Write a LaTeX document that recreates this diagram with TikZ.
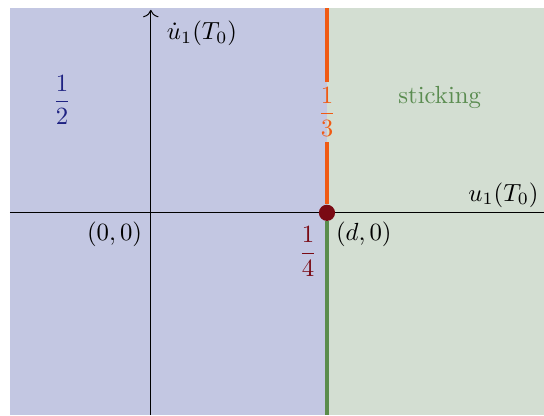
\documentclass[tikz,border=0pt]{standalone}
\usepackage{tikz}
\usetikzlibrary{positioning,arrows.meta}

\definecolor{slipblue}{HTML}{C3C7E2}
\definecolor{stickgreen}{HTML}{D3DED2}
\definecolor{edgeorange}{HTML}{F05A14}
\definecolor{edgegreen}{HTML}{5A8C4B}
\definecolor{pointred}{HTML}{7A0A14}
\definecolor{labelblue}{HTML}{1E2282}
\definecolor{labelgreen}{HTML}{5A8C50}

\begin{document}
\begin{tikzpicture}[
    axis/.style={-{To[length=3pt]}, thin},
    boundary/.style={line width=1.25pt},
    point/.style={circle, fill=pointred, inner sep=0pt, minimum size=0.23cm}
]

% Frame
\useasboundingbox (-2.14,-2.87) rectangle (5.58,3.02);

% Regions
\fill[slipblue] (-2,-2.87) rectangle (2.5,2.9);
\fill[stickgreen] (2.5,-2.87) rectangle (5.58,2.9);

% Axes
\coordinate (xstart) at (-2,0);
\coordinate (xend) at (5.58,0);
\coordinate (ystart) at (0,-2.87);
\coordinate (yend) at (0,2.88);
\draw[thin] (xstart) -- (xend) node[above left, inner sep=2pt] (xlabel) {$u_1(T_0)$};
\draw[axis] (ystart) -- (yend) node[below right, xshift=3pt, yshift=-1pt] (ylabel) {$\dot{u}_1(T_0)$};
\node[below left] (origin) at (0,0) {$(0,0)$};

% Boundary line x = d
\coordinate (top) at (2.5,2.9);
\coordinate (bottom) at (2.5,-2.87);
\node[point] (dpoint) at (2.5,0) {};
\node[edgeorange, inner sep=2pt] (three) at (2.5,1.43) {$\displaystyle\frac{1}{3}$};
\draw[boundary, edgeorange] (top) -- (three.north);
\draw[boundary, edgeorange] (three.south) -- (dpoint.north);
\draw[boundary, edgegreen] (dpoint.south) -- (bottom);

% Labels
\node[below right, inner sep=1pt] (dlabel) at (dpoint.south east) {$(d,0)$};
\node[pointred] (four) at (2.23,-0.55) {$\displaystyle\frac{1}{4}$};
\node[labelblue] (two) at (-1.26,1.6) {$\displaystyle\frac{1}{2}$};
\node[labelgreen] (stick) at (4.1,1.63) {sticking};

\end{tikzpicture}
\end{document}
